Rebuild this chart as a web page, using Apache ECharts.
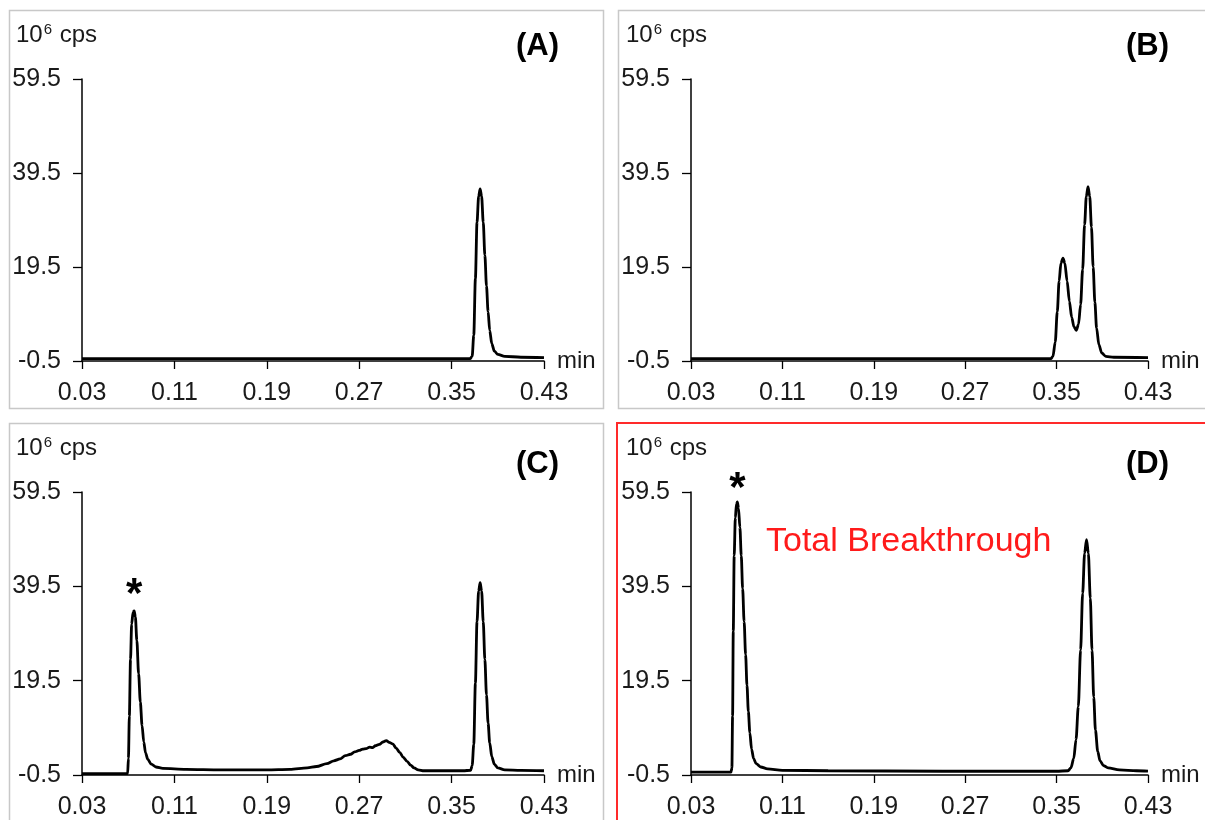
<!DOCTYPE html>
<html>
<head>
<meta charset="utf-8">
<script src="https://cdn.jsdelivr.net/npm/echarts@6/dist/echarts.min.js"></script>
<style>
html,body{margin:0;padding:0;background:#fff;}
#chart{width:1205px;height:820px;}
</style>
</head>
<body>
<div id="chart"></div>
<script>
// ---- data (retention time in min, signal in 10^6 cps) ----
const xTicks = [0.03, 0.11, 0.19, 0.27, 0.35, 0.43];
const yTicks = [-0.5, 19.5, 39.5, 59.5];
const panelLabels = ['(A)', '(B)', '(C)', '(D)'];
const noteText = 'Total Breakthrough';

const traceA = [[0.03,0],[0.2,0],[0.366,0],[0.3678,0.5],[0.3692,5],[0.3706,17],[0.372,29],[0.3734,34.5],[0.3747,36.1],[0.376,34.5],[0.3774,29],[0.3788,22],[0.3802,15.5],[0.3816,10],[0.383,6],[0.3848,3.2],[0.387,1.6],[0.39,0.9],[0.396,0.5],[0.41,0.3],[0.43,0.2]];

const traceB = [[0.03,0],[0.2,0],[0.345,0],[0.3468,0.5],[0.3488,3.5],[0.3506,10],[0.3522,16.5],[0.3538,20.3],[0.3556,21.4],[0.3572,20.3],[0.3592,16.5],[0.3612,12.2],[0.3632,8.8],[0.3652,6.8],[0.3672,6.0],[0.3692,7.3],[0.371,11.5],[0.3728,19],[0.3745,28.5],[0.376,34.5],[0.3775,36.6],[0.379,34.5],[0.3805,28],[0.382,19.5],[0.3835,12],[0.385,6.5],[0.387,3],[0.3895,1.2],[0.393,0.5],[0.40,0.3],[0.43,0.2]];

const traceC = [[0.03,-0.2],[0.0695,-0.2],[0.0702,3],[0.071,12],[0.072,24],[0.073,31.5],[0.0742,34],[0.0752,34.3],[0.0762,33],[0.0775,28],[0.079,21],[0.0805,15],[0.082,10],[0.0835,6.5],[0.085,4.2],[0.087,2.8],[0.09,1.8],[0.094,1.2],[0.1,0.9],[0.12,0.7],[0.15,0.6],[0.19,0.6],[0.21,0.7],[0.225,1.0],[0.233,1.3],[0.242,1.9],[0.248,2.5],[0.2535,2.9],[0.258,3.6],[0.2625,3.9],[0.266,4.4],[0.27,4.7],[0.273,5.0],[0.276,5.1],[0.279,5.4],[0.2815,5.3],[0.284,5.7],[0.2875,6.0],[0.2905,6.5],[0.2935,6.8],[0.296,6.4],[0.299,6.1],[0.302,5.2],[0.305,4.3],[0.308,3.3],[0.3115,2.4],[0.3145,1.6],[0.3175,1.0],[0.321,0.6],[0.326,0.4],[0.335,0.4],[0.36,0.4],[0.3665,0.5],[0.3678,1.5],[0.3692,6],[0.3706,19],[0.372,32],[0.3734,38.5],[0.3747,40.3],[0.376,38.5],[0.3774,32],[0.3788,24],[0.3802,16.5],[0.3816,10.5],[0.383,6.3],[0.3848,3.4],[0.387,1.8],[0.39,1.0],[0.396,0.6],[0.41,0.5],[0.43,0.4]];

const traceD = [[0.03,0.1],[0.065,0.1],[0.0658,1],[0.0664,12],[0.067,30],[0.0678,46],[0.0688,54],[0.0698,57],[0.0706,57.4],[0.0716,56],[0.0728,52],[0.074,46],[0.0752,39],[0.0765,32],[0.0778,25],[0.079,18.5],[0.0802,13],[0.0815,8.5],[0.083,5],[0.0848,3],[0.087,1.9],[0.091,1.2],[0.097,0.8],[0.11,0.5],[0.15,0.4],[0.25,0.3],[0.35,0.3],[0.36,0.4],[0.3625,1],[0.365,3],[0.367,7],[0.369,14],[0.371,26],[0.3728,38],[0.3745,46.5],[0.3762,49.4],[0.3778,46.5],[0.3795,37],[0.381,26],[0.3825,16],[0.384,9],[0.386,4.5],[0.388,2.5],[0.391,1.5],[0.395,1],[0.405,0.6],[0.42,0.4],[0.43,0.3]];

const starC = [0.0752, 34.3];
const starD = [0.0706, 57.4];

// ---- layout ----
const FONT = '"Liberation Sans", Arial, sans-serif';
const grids = [
  {left: 82, top: 79, width: 462, height: 282},
  {left: 691, top: 79, width: 457, height: 282},
  {left: 82, top: 492, width: 462, height: 285},
  {left: 691, top: 492, width: 457, height: 285}
];
const traces = [traceA, traceB, traceC, traceD];
const stars = [null, null, {c: starC, d: -6}, {c: starD, d: -9}];

const option = {
  animation: false,
  backgroundColor: '#fff',
  grid: grids.map(g => Object.assign({containLabel: false}, g)),
  xAxis: grids.map((g, i) => ({
    gridIndex: i, type: 'value', min: 0.03, max: 0.43,
    axisLine: {show: true, onZero: false, lineStyle: {color: '#000', width: 1.5}},
    axisTick: {show: true, inside: false, length: 8, customValues: xTicks, lineStyle: {color: '#000', width: 1.3}},
    axisLabel: {customValues: xTicks, formatter: v => v.toFixed(2), margin: 20, fontSize: 25, color: '#1a1a1a', fontFamily: FONT},
    splitLine: {show: false},
    name: 'min', nameLocation: 'end', nameGap: 13,
    nameTextStyle: {fontSize: 24, color: '#1a1a1a', fontFamily: FONT, padding: [0, 0, 6, 0]}
  })),
  yAxis: grids.map((g, i) => ({
    gridIndex: i, type: 'value', min: -0.5, max: 59.5,
    axisLine: {show: true, onZero: false, lineStyle: {color: '#000', width: 1.5}},
    axisTick: {show: true, inside: false, length: 9, customValues: yTicks, lineStyle: {color: '#000', width: 1.3}},
    axisLabel: {customValues: yTicks, formatter: v => v.toFixed(1), margin: 21, fontSize: 25, color: '#1a1a1a', fontFamily: FONT},
    splitLine: {show: false}
  })),
  series: traces.map((t, i) => {
    const s = {
      type: 'line', xAxisIndex: i, yAxisIndex: i, data: t,
      showSymbol: false, smooth: 0.3, smoothMonotone: 'x',
      lineStyle: {color: '#000', width: 2.8}, z: 3
    };
    if (stars[i]) {
      s.markPoint = {
        symbol: 'circle', symbolSize: 1, itemStyle: {color: 'rgba(0,0,0,0)'},
        label: {show: true, formatter: '*', position: 'top', distance: stars[i].d, fontSize: 42, fontWeight: 'bold', color: '#000', fontFamily: FONT},
        data: [{coord: stars[i].c}]
      };
    }
    return s;
  }),
  graphic: [
    {type: 'rect', shape: {x: 9.5, y: 10.5, width: 594, height: 398}, style: {fill: 'none', stroke: '#c8c8c8', lineWidth: 1.5}},
    {type: 'rect', shape: {x: 618.5, y: 10.5, width: 620, height: 398}, style: {fill: 'none', stroke: '#c8c8c8', lineWidth: 1.5}},
    {type: 'rect', shape: {x: 9.5, y: 423.5, width: 594, height: 420}, style: {fill: 'none', stroke: '#c8c8c8', lineWidth: 1.5}},
    {type: 'rect', shape: {x: 617, y: 423, width: 620, height: 420}, style: {fill: 'none', stroke: '#ff2a2a', lineWidth: 2}},
  ].concat([[16, 35], [626, 35], [16, 448], [626, 448]].map(p => ({
    type: 'text', x: p[0], y: p[1],
    style: {
      text: '{a|10}{s|6}{a| cps}', verticalAlign: 'middle',
      rich: {a: {fontSize: 24, fontFamily: FONT, fill: '#1a1a1a'}, s: {fontSize: 15, fontFamily: FONT, fill: '#1a1a1a', padding: [0, 1, 11, 1]}}
    }
  }))).concat([[516, 46], [1126, 46], [516, 464], [1126, 464]].map((p, i) => ({
    type: 'text', x: p[0], y: p[1],
    style: {text: panelLabels[i], verticalAlign: 'middle', fontSize: 31, fontWeight: 'bold', fontFamily: FONT, fill: '#000'}
  }))).concat([{
    type: 'text', x: 766, y: 542,
    style: {text: noteText, verticalAlign: 'middle', fontSize: 34, fontFamily: FONT, fill: '#ff1a1a'}
  }])
};

const chart = echarts.init(document.getElementById('chart'), null, {renderer: 'canvas'});
chart.setOption(option);
</script>
</body>
</html>
